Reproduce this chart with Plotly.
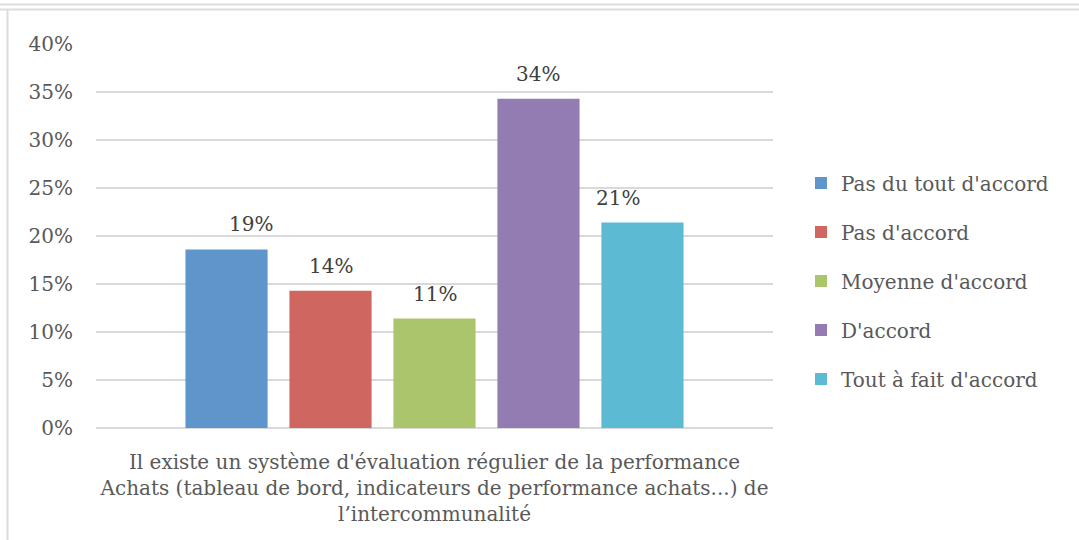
import plotly.graph_objects as go

category = ["Il existe un système d'évaluation régulier de la performance<br>Achats (tableau de bord, indicateurs de performance achats...) de<br>l’intercommunalité"]
series = ["Pas du tout d'accord", "Pas d'accord", "Moyenne d'accord", "D'accord", "Tout à fait d'accord"]
values = [0.186, 0.143, 0.114, 0.343, 0.214]
labels = ["19%", "14%", "11%", "34%", "21%"]
colors = ["#5E95CA", "#CF6660", "#AAC56B", "#937CB2", "#5CBAD2"]

FONT = "DejaVu Serif"
FS = 20
TXT = "#595959"
BARGAP = 0.232
GROUPGAP = 0.21

W, H = 1079, 540
L, R, T, B = 96, 306, 44, 112
pw, ph = W - L - R, H - T - B

fig = go.Figure()
for i, (name, v, c) in enumerate(zip(series, values, colors)):
    fig.add_trace(go.Bar(x=category, y=[v], name=name, marker=dict(color=c, line=dict(width=0)),
                         legendgroup=name, hoverinfo="skip"))

slot = (1 - BARGAP) / len(series)
annotations = []
for i, (v, lab) in enumerate(zip(values, labels)):
    annotations.append(dict(x=BARGAP / 2 + slot * (i + 0.5), xref="paper", y=v, yref="y",
                            text=lab, showarrow=False, yanchor="bottom", yshift=11,
                            font=dict(family=FONT, size=FS, color="#404040")))

def px2x(px):
    return (px - L) / pw

def py2y(py):
    return (H - B - py) / ph

shapes = [
    dict(type="line", xref="paper", yref="paper", x0=px2x(0), x1=px2x(W), y0=py2y(4.5), y1=py2y(4.5),
         line=dict(color="#dcdcdc", width=2)),
    dict(type="line", xref="paper", yref="paper", x0=px2x(0), x1=px2x(W), y0=py2y(9.5), y1=py2y(9.5),
         line=dict(color="#dcdcdc", width=2)),
    dict(type="line", xref="paper", yref="paper", x0=px2x(7.5), x1=px2x(7.5), y0=py2y(9.5), y1=py2y(H),
         line=dict(color="#dcdcdc", width=2)),
]

fig.update_layout(
    width=W, height=H,
    margin=dict(l=L, r=R, t=T, b=B, pad=0),
    paper_bgcolor="white", plot_bgcolor="white",
    barmode="group", bargap=BARGAP, bargroupgap=GROUPGAP,
    font=dict(family=FONT, size=FS, color=TXT),
    showlegend=True,
    legend=dict(x=px2x(801), xanchor="left", y=py2y(281), yanchor="middle",
                traceorder="grouped", tracegroupgap=20, font=dict(family=FONT, size=FS, color=TXT),
                bgcolor="rgba(0,0,0,0)", borderwidth=0),
    xaxis=dict(showgrid=False, showline=False, zeroline=False, ticks="", ticklabelstandoff=20,
               tickfont=dict(family=FONT, size=FS, color=TXT)),
    yaxis=dict(range=[0, 0.40], dtick=0.05, tickformat=".0%", showgrid=True, gridcolor="#d9d9d9",
               gridwidth=1.5, zeroline=True, zerolinecolor="#d9d9d9", zerolinewidth=1.5, showline=False,
               ticks="", ticklabelstandoff=22, tickfont=dict(family=FONT, size=FS, color=TXT)),
    annotations=annotations,
    shapes=shapes,
)

fig.write_html("out.html", config={"displayModeBar": False},
               post_script="document.body.style.margin='0';")
